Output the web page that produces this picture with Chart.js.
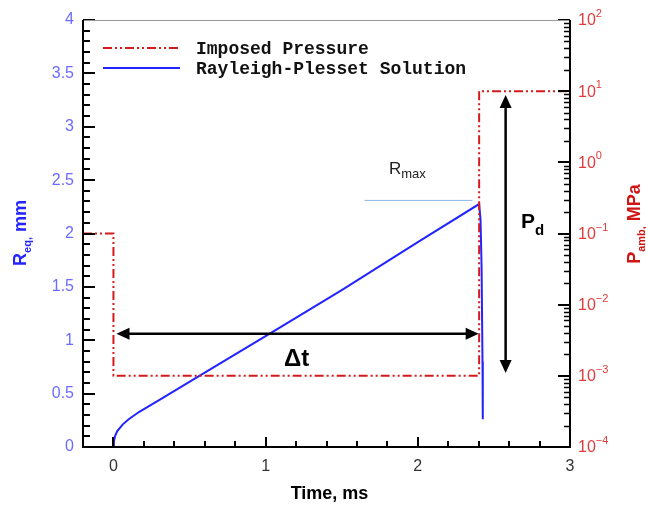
<!DOCTYPE html>
<html>
<head>
<meta charset="utf-8">
<script src="https://cdn.jsdelivr.net/npm/chart.js@4/dist/chart.umd.min.js"></script>
<style>
    html, body { margin: 0; padding: 0; background: #fff; }
    canvas { display: block; }
</style>
</head>
<body>
<canvas id="myChart" width="646" height="505"></canvas>
<script>
// tick labels
const time_ticks = [0, 1, 2, 3];
const radius_ticks = [0, 0.5, 1, 1.5, 2, 2.5, 3, 3.5, 4];
const pressure_exponents = [-4, -3, -2, -1, 0, 1, 2];

// Rayleigh-Plesset solution: time (ms) -> R_eq (mm)
const rp_time   = [0, 0.003, 0.01, 0.025, 0.06, 0.1, 0.17, 0.3, 0.57, 1.03, 1.5, 2.0, 2.403, 2.412, 2.419, 2.425, 2.427];
const rp_radius = [0, 0.05, 0.1, 0.15, 0.21, 0.26, 0.33, 0.44, 0.67, 1.065, 1.47, 1.92, 2.276, 2.13, 1.69, 0.8, 0.26];

// imposed pressure: time (ms) -> P_amb (MPa)
const p_time     = [-0.2, 0, 0, 2.403, 2.403, 3];
const p_pressure = [0.1, 0.1, 0.001, 0.001, 10, 10];

// annotations, in data units
const rmax_line = { t0: 1.65, t1: 2.36, r: 2.31 };
const dt_arrow = { t0: 0.02, t1: 2.40, r: 1.06 };
const pd_arrow = { t: 2.577, p0: 8.8, p1: 0.0011 };

const toPoints = (xs, ys) => xs.map((x, i) => ({ x: x, y: ys[i] }));

function arrowHead(ctx, x, y, angle, len, half) {
    ctx.save();
    ctx.translate(x, y);
    ctx.rotate(angle);
    ctx.beginPath();
    ctx.moveTo(0, 0);
    ctx.lineTo(-len, -half);
    ctx.lineTo(-len, half);
    ctx.closePath();
    ctx.fill();
    ctx.restore();
}

// draws pieces [text, font, dy] one after another from x, y
function drawRich(ctx, parts, x, y) {
    let cx = x;
    parts.forEach(p => {
        ctx.font = p[1];
        ctx.fillText(p[0], cx, y + p[2]);
        cx += ctx.measureText(p[0]).width;
    });
}
function richWidth(ctx, parts) {
    let w = 0;
    parts.forEach(p => { ctx.font = p[1]; w += ctx.measureText(p[0]).width; });
    return w;
}

const extras = {
    id: 'extras',
    afterDatasetsDraw(chart) {
        const ctx = chart.ctx;
        const a = chart.chartArea;
        const xs = chart.scales.x, yl = chart.scales.y, yr = chart.scales.y2;
        ctx.save();

        // R_max line + label
        ctx.strokeStyle = '#8cb8e8';
        ctx.lineWidth = 1;
        ctx.beginPath();
        ctx.moveTo(xs.getPixelForValue(rmax_line.t0), yl.getPixelForValue(rmax_line.r));
        ctx.lineTo(xs.getPixelForValue(rmax_line.t1), yl.getPixelForValue(rmax_line.r));
        ctx.stroke();
        ctx.fillStyle = '#222';
        ctx.textBaseline = 'alphabetic';
        ctx.textAlign = 'left';
        drawRich(ctx, [['R', '17px "Liberation Sans"', 0], ['max', '13px "Liberation Sans"', 4]], 389, 174);

        // delta t arrow
        ctx.strokeStyle = '#000';
        ctx.fillStyle = '#000';
        ctx.lineWidth = 2.5;
        const ay = yl.getPixelForValue(dt_arrow.r);
        const ax0 = xs.getPixelForValue(dt_arrow.t0), ax1 = xs.getPixelForValue(dt_arrow.t1);
        ctx.beginPath();
        ctx.moveTo(ax0 + 10, ay);
        ctx.lineTo(ax1 - 10, ay);
        ctx.stroke();
        arrowHead(ctx, ax0, ay, Math.PI, 13, 6);
        arrowHead(ctx, ax1, ay, 0, 13, 6);
        ctx.font = 'bold 24px "Liberation Sans"';
        ctx.textAlign = 'left';
        ctx.fillText('\u0394t', 284, 366);

        // P_d arrow
        const px = xs.getPixelForValue(pd_arrow.t);
        const py0 = yr.getPixelForValue(pd_arrow.p0), py1 = yr.getPixelForValue(pd_arrow.p1);
        ctx.beginPath();
        ctx.moveTo(px, py0 + 10);
        ctx.lineTo(px, py1 - 10);
        ctx.stroke();
        arrowHead(ctx, px, py0, -Math.PI / 2, 13, 6);
        arrowHead(ctx, px, py1, Math.PI / 2, 13, 6);
        drawRich(ctx, [['P', 'bold 21px "Liberation Sans"', 0], ['d', 'bold 15px "Liberation Sans"', 7]], 521, 228);

        // legend
        ctx.textBaseline = 'middle';
        chart.data.datasets.forEach((ds, i) => {
            const ly = 48 + i * 20;
            ctx.strokeStyle = ds.borderColor;
            ctx.lineWidth = 2;
            ctx.setLineDash(ds.borderDash || []);
            ctx.beginPath();
            ctx.moveTo(103, ly);
            ctx.lineTo(180, ly);
            ctx.stroke();
            ctx.setLineDash([]);
            ctx.fillStyle = '#111';
            ctx.font = 'bold 18px "Liberation Mono"';
            ctx.fillText(ds.label, 196, ly + 1);
        });

        // tick marks
        ctx.strokeStyle = '#000';
        ctx.lineWidth = 2;
        ctx.beginPath();
        for (let k = 0; k <= 40; k++) {
            const y = Math.round(yl.getPixelForValue(k * 0.1));
            ctx.moveTo(a.left, y);
            ctx.lineTo(a.left + (k % 5 === 0 ? 12 : 7), y);
        }
        for (let k = -1; k <= 15; k++) {
            const x = Math.round(xs.getPixelForValue(k * 0.2));
            ctx.moveTo(x, a.bottom);
            ctx.lineTo(x, a.bottom - (k % 5 === 0 ? 10 : 6));
        }
        pressure_exponents.forEach(e => {
            const y = Math.round(yr.getPixelForValue(Math.pow(10, e)));
            ctx.moveTo(a.right, y);
            ctx.lineTo(a.right - 12, y);
        });
        ctx.stroke();
        ctx.lineWidth = 1.5;
        ctx.beginPath();
        for (let e = -4; e < 2; e++) {
            for (let m = 2; m <= 9; m++) {
                const y = Math.round(yr.getPixelForValue(m * Math.pow(10, e))) + 0.5;
                ctx.moveTo(a.right, y);
                ctx.lineTo(a.right - 6, y);
            }
        }
        ctx.stroke();

        // frame
        ctx.strokeStyle = '#999';
        ctx.lineWidth = 1;
        ctx.beginPath();
        ctx.moveTo(a.left, a.top + 0.5);
        ctx.lineTo(a.right, a.top + 0.5);
        ctx.stroke();
        ctx.strokeStyle = '#000';
        ctx.lineWidth = 2;
        ctx.beginPath();
        ctx.moveTo(a.left, a.top);
        ctx.lineTo(a.left, a.bottom);
        ctx.lineTo(a.right, a.bottom);
        ctx.lineTo(a.right, a.top);
        ctx.stroke();

        // right axis labels 10^n
        ctx.fillStyle = '#e23b3b';
        ctx.textBaseline = 'middle';
        pressure_exponents.forEach(e => {
            const y = yr.getPixelForValue(Math.pow(10, e));
            drawRich(ctx, [['10', '16px "Liberation Sans"', 0], [String(e).replace('-', '\u2212'), '11px "Liberation Sans"', -7]], a.right + 8, y + 1);
        });

        // axis titles
        ctx.textBaseline = 'alphabetic';
        ctx.fillStyle = '#000';
        ctx.font = 'bold 18px "Liberation Sans"';
        ctx.textAlign = 'center';
        ctx.fillText('Time, ms', (a.left + a.right) / 2 + 3, 499);
        ctx.textAlign = 'left';

        const leftTitle = [['R', 'bold 18px "Liberation Sans"', 0], ['eq,', 'bold 11px "Liberation Sans"', 5], [' mm', 'bold 18px "Liberation Sans"', 0]];
        ctx.save();
        ctx.translate(26, 233);
        ctx.rotate(-Math.PI / 2);
        ctx.fillStyle = '#2424ff';
        drawRich(ctx, leftTitle, -richWidth(ctx, leftTitle) / 2, 0);
        ctx.restore();

        const rightTitle = [['P', 'bold 18px "Liberation Sans"', 0], ['amb,', 'bold 11px "Liberation Sans"', 5], [' MPa', 'bold 18px "Liberation Sans"', 0]];
        ctx.save();
        ctx.translate(640, 224);
        ctx.rotate(-Math.PI / 2);
        ctx.fillStyle = '#d01515';
        drawRich(ctx, rightTitle, -richWidth(ctx, rightTitle) / 2, 0);
        ctx.restore();

        ctx.restore();
    }
};

document.addEventListener('DOMContentLoaded', function() {
    const ctx = document.getElementById('myChart');

    new Chart(ctx, {
        type: 'scatter',
        data: {
            datasets: [{
                label: 'Imposed Pressure',
                data: toPoints(p_time, p_pressure),
                yAxisID: 'y2',
                showLine: true,
                borderColor: '#d41a1a',
                borderWidth: 2,
                borderDash: [9, 3, 2, 3, 2, 3],
                pointRadius: 0
            }, {
                label: 'Rayleigh-Plesset Solution',
                data: toPoints(rp_time, rp_radius),
                yAxisID: 'y',
                showLine: true,
                borderColor: '#2323ff',
                borderWidth: 2,
                pointRadius: 0
            }]
        },
        options: {
            responsive: false,
            animation: false,
            layout: { padding: { top: 20, left: 0, right: 0, bottom: 0 } },
            plugins: {
                legend: { display: false },
                tooltip: { enabled: false }
            },
            scales: {
                x: {
                    type: 'linear',
                    min: -0.2,
                    max: 3,
                    grid: { display: false, drawTicks: false },
                    border: { display: false },
                    ticks: {
                        color: '#333',
                        font: { size: 16, family: 'Liberation Sans' },
                        padding: 10,
                        maxRotation: 0,
                        callback: v => String(v)
                    },
                    afterBuildTicks: s => { s.ticks = time_ticks.map(v => ({ value: v })); },
                    afterFit: s => { s.height = 58; }
                },
                y: {
                    type: 'linear',
                    position: 'left',
                    min: 0,
                    max: 4,
                    grid: { display: false, drawTicks: false },
                    border: { display: false },
                    ticks: {
                        color: '#6b6bff',
                        font: { size: 16, family: 'Liberation Sans' },
                        padding: 9,
                        callback: v => String(v)
                    },
                    afterBuildTicks: s => { s.ticks = radius_ticks.map(v => ({ value: v })); },
                    afterFit: s => { s.width = 83; }
                },
                y2: {
                    type: 'logarithmic',
                    position: 'right',
                    min: 1e-4,
                    max: 1e2,
                    grid: { display: false, drawTicks: false },
                    border: { display: false },
                    ticks: { display: false },
                    afterFit: s => { s.width = 76; }
                }
            }
        },
        plugins: [extras]
    });
});
</script>
</body>
</html>
